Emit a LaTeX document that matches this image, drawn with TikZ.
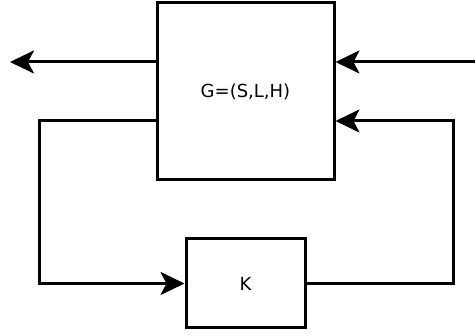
\documentclass[tikz,border=0pt]{standalone}
\usepackage{fontspec}
\setmainfont{DejaVu Sans}
\usetikzlibrary{arrows.meta}
\begin{document}
\begin{tikzpicture}[x=1pt,y=-1pt,
  blk/.style={draw,line width=3pt,inner sep=0pt,font=\fontsize{18}{21}\selectfont},
  conn/.style={line width=3pt},
  arr/.style={conn,-{Stealth[length=24pt,width=23pt,inset=6pt]}}]
\useasboundingbox (0,0) rectangle (475,336);
\node[blk,minimum width=177pt,minimum height=177pt] (G) at (245.5,91.5) {G=(S,L,H)};
\node[blk,minimum width=119pt,minimum height=89pt] (K) at (245.5,283.5) {K};
\coordinate (out) at (10,62);
\coordinate (in) at (475,62);
\coordinate (fl) at (39,121);
\coordinate (fr) at (453,121);
\draw[arr] (G.west |- out) -- (out);
\draw[arr] (in) -- (in -| G.east);
\draw[arr] (fl -| G.west) -- (fl) |- (K.west);
\draw[arr] (K.east) -| (fr) -- (fr -| G.east);
\end{tikzpicture}
\end{document}
